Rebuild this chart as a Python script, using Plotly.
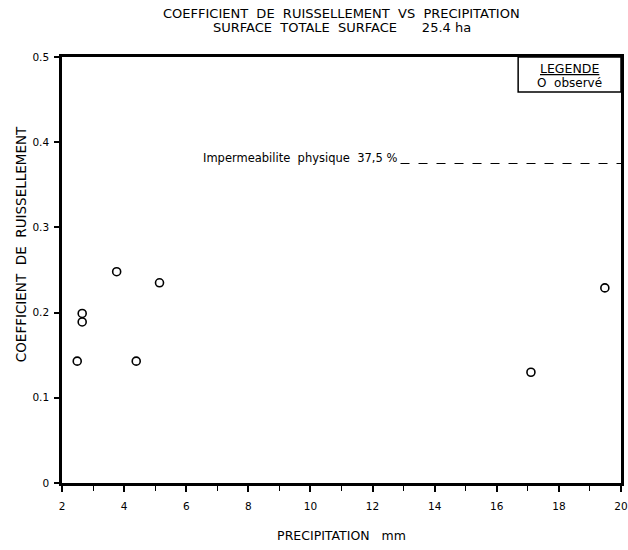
import plotly.graph_objects as go

# Observed data (precipitation mm, runoff coefficient)
precip_mm = [2.49, 2.65, 2.65, 3.76, 4.39, 5.14, 17.1, 19.48]
runoff_coef = [0.143, 0.199, 0.189, 0.248, 0.143, 0.235, 0.130, 0.229]

# Physical imperviousness reference
imperm_value = 0.375
imperm_x = [12.9, 20.0]

x_ticks = [2, 4, 6, 8, 10, 12, 14, 16, 18, 20]
y_ticks = [0, 0.1, 0.2, 0.3, 0.4, 0.5]
y_tick_labels = ["0", "0.1", "0.2", "0.3", "0.4", "0.5"]

FONT = "DejaVu Sans, Liberation Sans, Arial"

fig = go.Figure()

fig.add_trace(go.Scatter(
    x=precip_mm, y=runoff_coef, mode="markers",
    marker=dict(symbol="circle-open", size=8, color="black", line=dict(width=1.6, color="black")),
    name="observé", showlegend=False,
))

fig.add_trace(go.Scatter(
    x=imperm_x, y=[imperm_value, imperm_value], mode="lines",
    line=dict(color="black", width=1.2, dash="dash"),
    showlegend=False,
))

fig.add_annotation(
    x=imperm_x[0], y=imperm_value, xref="x", yref="y",
    text="Impermeabilite  physique  37,5 %", showarrow=False,
    xanchor="right", yanchor="middle", xshift=-2, yshift=6,
    font=dict(family=FONT, size=11.5, color="black"),
)

# Title (two lines)
fig.add_annotation(
    x=0.5, y=1.0, xref="paper", yref="paper", yshift=44,
    text="COEFFICIENT  DE  RUISSELLEMENT  VS  PRECIPITATION",
    showarrow=False, xanchor="center", yanchor="middle",
    font=dict(family=FONT, size=13, color="black"),
)
fig.add_annotation(
    x=0.5, y=1.0, xref="paper", yref="paper", yshift=30,
    text="SURFACE  TOTALE  SURFACE      25.4 ha",
    showarrow=False, xanchor="center", yanchor="middle",
    font=dict(family=FONT, size=13, color="black"),
)

# Y axis title (placed as annotation to match the original position)
fig.add_annotation(
    x=-0.072, y=0.56, xref="paper", yref="paper",
    text="COEFFICIENT  DE  RUISSELLEMENT", textangle=-90,
    showarrow=False, xanchor="center", yanchor="middle",
    font=dict(family=FONT, size=13.5, color="black"),
)

# Legend box
fig.add_shape(type="rect", xref="paper", yref="paper",
              x0=0.816, x1=1.0, y0=0.918, y1=1.0,
              line=dict(color="black", width=1.5), fillcolor="white")
fig.add_annotation(
    x=0.908, y=0.974, xref="paper", yref="paper",
    text="<u>LEGENDE</u>", showarrow=False, xanchor="center", yanchor="middle",
    font=dict(family=FONT, size=12.5, color="black"),
)
fig.add_annotation(
    x=0.908, y=0.94, xref="paper", yref="paper",
    text="O  observé", showarrow=False, xanchor="center", yanchor="middle",
    font=dict(family=FONT, size=12, color="black"),
)

fig.update_layout(
    width=628, height=550,
    margin=dict(l=62, r=7, t=57, b=67, autoexpand=False),
    paper_bgcolor="white", plot_bgcolor="white",
    font=dict(family=FONT, size=11, color="black"),
    xaxis=dict(
        range=[2, 20], tickmode="array", tickvals=x_ticks,
        ticks="outside", ticklen=6, tickwidth=1.5, tickcolor="black",
        minor=dict(ticks="outside", ticklen=5, tickwidth=1.2, dtick=1, tickcolor="black"),
        showgrid=False, zeroline=False,
        showline=True, linecolor="black", linewidth=2.5, mirror=True,
        ticklabelstandoff=6,
        title=dict(text="PRECIPITATION   mm", font=dict(family=FONT, size=12.5), standoff=20),
        tickfont=dict(family=FONT, size=10.5),
    ),
    yaxis=dict(
        range=[0, 0.5], tickmode="array", tickvals=y_ticks, ticktext=y_tick_labels,
        ticks="outside", ticklen=5, tickwidth=1.5, tickcolor="black",
        showgrid=False, zeroline=False,
        showline=True, linecolor="black", linewidth=2.5, mirror=True,
        ticklabelstandoff=3,
        tickfont=dict(family=FONT, size=10.5),
    ),
)

fig.write_html("out.html", config={"displayModeBar": False},
               post_script="document.body.style.margin='0';document.documentElement.style.overflow='hidden';")
